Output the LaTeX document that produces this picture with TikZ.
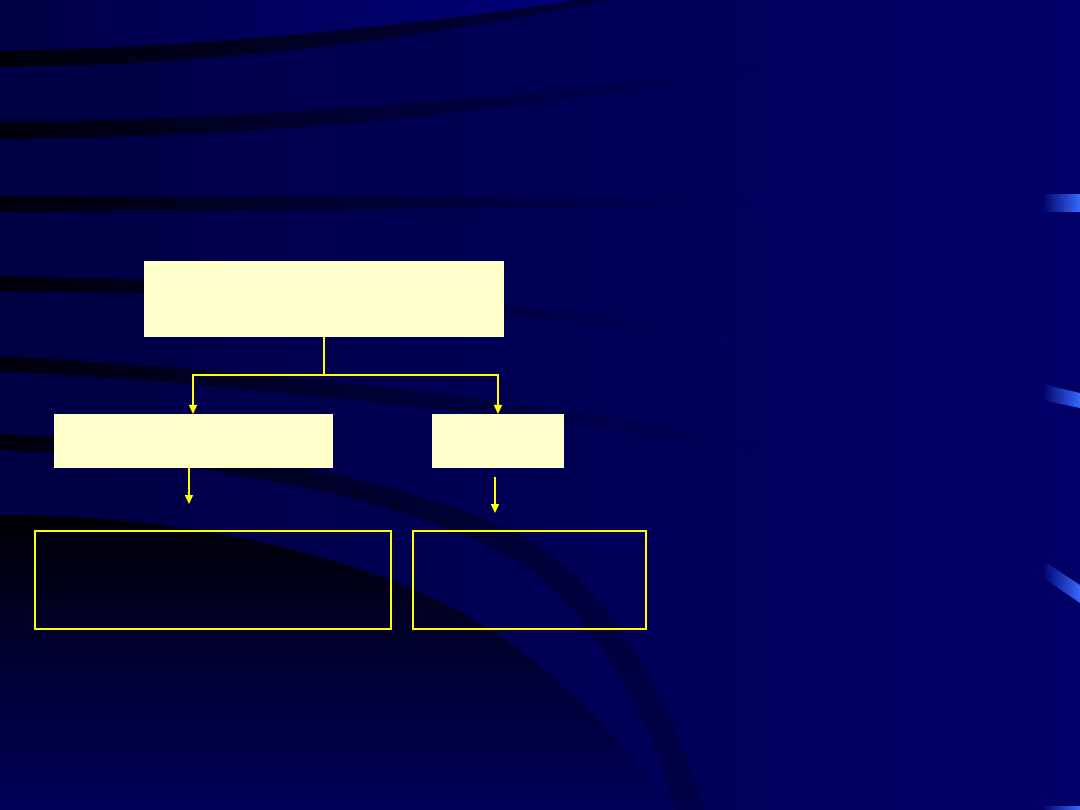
\documentclass[tikz,border=0pt]{standalone}
\usetikzlibrary{arrows.meta}
\definecolor{bgl}{RGB}{0,0,68}
\definecolor{bgr}{RGB}{0,0,104}
\definecolor{bgtop}{RGB}{0,0,124}
\definecolor{swdark}{RGB}{0,0,12}
\definecolor{swmid}{RGB}{0,0,40}
\definecolor{swend}{RGB}{0,0,94}
\definecolor{glow}{RGB}{55,105,255}
\definecolor{cream}{RGB}{255,255,204}
\definecolor{lineyel}{RGB}{255,255,0}
\tikzset{
  creambox/.style={fill=cream, draw=none, inner sep=0pt, outer sep=0pt},
  framebox/.style={draw=lineyel, line width=1.5pt, fill=none, inner sep=0pt, outer sep=0pt},
  conn/.style={draw=lineyel, line width=1.5pt},
  arr/.style={conn, -{Triangle[width=8pt,length=9pt]}},
  band/.style={left color=swdark, middle color=swmid, right color=swend},
  sliver/.style={left color=bgr, right color=glow}
}
\begin{document}
\begin{tikzpicture}[x=1pt,y=-1pt]
\useasboundingbox (0,0) rectangle (1080,810);
% background
\shade[left color=bgl, right color=bgr] (0,0) rectangle (1080,810);
\shade[left color=bgl, right color=bgtop] (0,0) -- (0,51) .. controls (200,48) and (420,25) .. (575,0) -- cycle;
% swooshes
\shade[band, middle color=swdark, right color={rgb,255:red,0;green,0;blue,60}]
  (0,51) .. controls (200,48) and (420,25) .. (575,0) -- (610,0)
  .. controls (440,35) and (220,66) .. (0,67) -- cycle;
\shade[band] (0,122) .. controls (250,120) and (520,100) .. (770,62)
  -- (770,70) .. controls (520,112) and (250,138) .. (0,139) -- cycle;
\shade[band] (0,196) -- (760,198) -- (760,207) -- (0,212) -- cycle;
\shade[band] (0,276) .. controls (250,280) and (500,295) .. (730,335)
  -- (730,343) .. controls (500,310) and (250,293) .. (0,291) -- cycle;
\shade[band] (0,356) .. controls (250,370) and (550,400) .. (770,445)
  -- (770,455) .. controls (550,418) and (250,385) .. (0,371) -- cycle;
% dark lower-left region
\shade[top color={rgb,255:red,0;green,0;blue,6}, middle color={rgb,255:red,0;green,0;blue,42}, bottom color={rgb,255:red,0;green,0;blue,92}]
  (0,515) .. controls (220,515) and (400,570) .. (490,630)
  .. controls (580,690) and (640,760) .. (670,810) -- (0,810) -- cycle;
\shade[left color=swdark, middle color={rgb,255:red,0;green,0;blue,48}, right color={rgb,255:red,0;green,0;blue,74}]
  (0,434) .. controls (250,447) and (455,490) .. (548,552)
  .. controls (630,615) and (677,720) .. (705,810)
  -- (675,810) .. controls (652,725) and (606,630) .. (530,570)
  .. controls (445,510) and (250,463) .. (0,450) -- cycle;
% right-edge slivers
\shade[sliver] (1042,195) rectangle (1080,212);
\shade[sliver] (1042,384) -- (1080,393) -- (1080,408) -- (1042,400) -- cycle;
\shade[sliver] (1042,560) -- (1080,585) -- (1080,603) -- (1042,577) -- cycle;
\shade[sliver] (1042,806) rectangle (1080,810);
% boxes
\node[creambox, minimum width=279pt, minimum height=54pt] (midL) at (193,441) {};
\node[creambox, minimum width=360pt, minimum height=76pt] (top) at (324,299) {};
\node[creambox, minimum width=132pt, minimum height=54pt] (midR) at (498,441) {};
\node[framebox, minimum width=356pt, minimum height=98pt] (botL) at (213,580) {};
\node[framebox, minimum width=233pt, minimum height=98pt] (botR) at (529.5,580) {};
% connectors
\coordinate (split) at (324,375);
\coordinate (aL) at (189,504);
\coordinate (aR1) at (495,477);
\coordinate (aR2) at (495,513);
\draw[conn] (top.south) -- (split);
\draw[arr] (split) -| (midL.north);
\draw[arr] (split) -| (midR.north);
\draw[arr] (midL.south -| aL) -- (aL);
\draw[arr] (aR1) -- (aR2);
\end{tikzpicture}
\end{document}
